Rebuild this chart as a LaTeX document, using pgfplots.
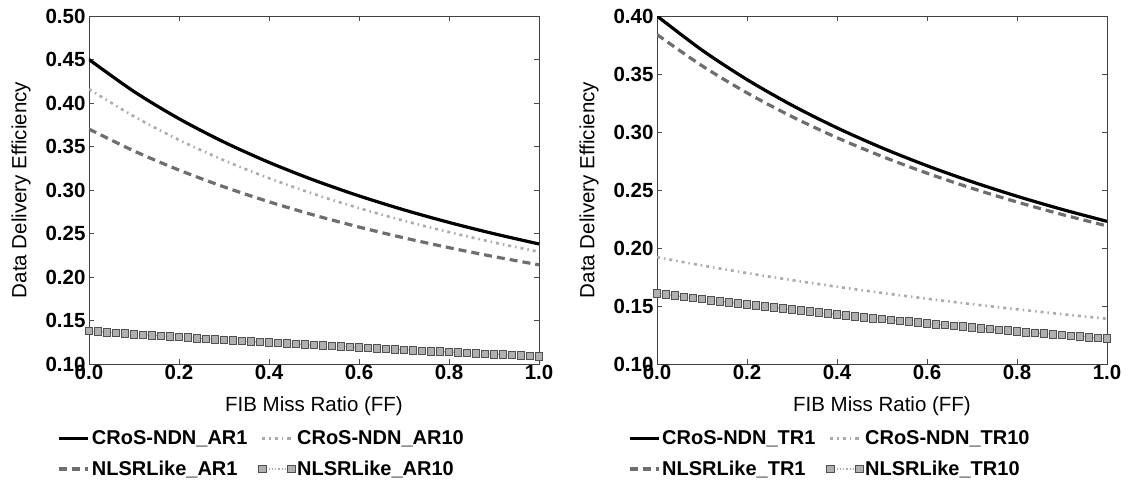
\documentclass[border=0pt]{standalone}
\usepackage{fontspec}
\setmainfont{Liberation Sans}
\usepackage{pgfplots}
\pgfplotsset{compat=1.18}
\definecolor{dk}{HTML}{6E6E6E}
\definecolor{lt}{HTML}{ABABAB}
\definecolor{sqf}{HTML}{B0B0B0}
\definecolor{sqe}{HTML}{505050}
\pgfplotsset{
  myax/.style={
    width=450pt, height=348pt, scale only axis,
    xmin=0, xmax=1,
    xtick={0,0.2,0.4,0.6,0.8,1.0},
    xticklabel style={yshift=2pt, /pgf/number format/.cd, fixed, fixed zerofill, precision=1},
    yticklabel style={/pgf/number format/.cd, fixed, fixed zerofill, precision=2},
    /pgf/number format/assume math mode=true,
    tick label style={font=\fontsize{20.5}{24}\selectfont\bfseries},
    label style={font=\fontsize{20.5}{24}\selectfont},
    tick align=inside, major tick length=5pt,
    tick style={color=black!70, line width=0.6pt},
    axis line style={color=black!75, line width=0.8pt},
    xlabel={FIB Miss Ratio (FF)},
    ylabel={Data Delivery Efficiency},
    xlabel style={at={(axis description cs:0.5,-0.121)}, anchor=center},
    ylabel style={at={(axis description cs:-0.151,0.5)}, anchor=center},
    legend columns=2,
    legend cell align=left,
    legend image code/.code={\draw[##1] plot coordinates {(0pt,0pt) (29pt,0pt)};},
    legend style={draw=none, fill=none, at={(axis description cs:0.384,-0.185)}, anchor=north,
      font=\fontsize{20}{24}\selectfont\bfseries, row sep=11pt,
      /tikz/every even column/.append style={column sep=9pt},
      inner sep=0pt},
  },
  s1/.style={black, line width=3.2pt, no marks},
  s2/.style={lt, line width=2.6pt, no marks, dash pattern=on 3pt off 4pt on 1.5pt off 4pt},
  s3/.style={dk, line width=3.2pt, no marks, dash pattern=on 8pt off 5pt},
  s4/.style={lt, line width=1.2pt, dotted, mark=square*, mark size=3.8pt,
    mark options={solid, fill=sqf, draw=sqe, line width=0.7pt}},
}
\begin{document}
\begin{tikzpicture}
\useasboundingbox (-89pt,-126pt) rectangle (1039pt,364pt);
\begin{axis}[myax, ymin=0.10, ymax=0.50, ytick={0.10,0.15,0.20,0.25,0.30,0.35,0.40,0.45,0.50}]
\addplot[s1, smooth] coordinates {(0,0.4500)(0.1,0.41318)(0.2,0.38194)(0.3,0.35509)(0.4,0.33176)(0.5,0.31131)(0.6,0.29324)(0.7,0.27715)(0.8,0.26273)(0.9,0.24974)(1.0,0.23797)};
\addlegendentry{CRoS-NDN\_AR1}
\addplot[s2, smooth] coordinates {(0,0.4160)(0.1,0.38458)(0.2,0.35757)(0.3,0.33411)(0.4,0.31354)(0.5,0.29535)(0.6,0.27916)(0.7,0.26465)(0.8,0.25157)(0.9,0.23973)(1.0,0.22895)};
\addlegendentry{CRoS-NDN\_AR10}
\addplot[s3, smooth] coordinates {(0,0.3700)(0.1,0.34486)(0.2,0.32292)(0.3,0.30360)(0.4,0.28647)(0.5,0.27116)(0.6,0.25741)(0.7,0.24498)(0.8,0.23371)(0.9,0.22342)(1.0,0.21400)};
\addlegendentry{NLSRLike\_AR1}
\addplot[s4] coordinates {(0,0.1380)(0.02,0.13727)(0.04,0.13655)(0.06,0.13583)(0.08,0.13512)(0.10,0.13442)(0.12,0.13373)(0.14,0.13305)(0.16,0.13237)(0.18,0.13169)(0.20,0.13103)(0.22,0.13037)(0.24,0.12972)(0.26,0.12907)(0.28,0.12843)(0.30,0.12780)(0.32,0.12718)(0.34,0.12655)(0.36,0.12594)(0.38,0.12533)(0.40,0.12473)(0.42,0.12413)(0.44,0.12354)(0.46,0.12296)(0.48,0.12237)(0.50,0.12180)(0.52,0.12123)(0.54,0.12067)(0.56,0.12011)(0.58,0.11955)(0.60,0.11901)(0.62,0.11846)(0.64,0.11792)(0.66,0.11739)(0.68,0.11686)(0.70,0.11634)(0.72,0.11582)(0.74,0.11530)(0.76,0.11479)(0.78,0.11429)(0.80,0.11379)(0.82,0.11329)(0.84,0.11280)(0.86,0.11231)(0.88,0.11182)(0.90,0.11134)(0.92,0.11087)(0.94,0.11040)(0.96,0.10993)(0.98,0.10946)(1.00,0.10900)};
\addlegendentry{NLSRLike\_AR10}
\end{axis}
\begin{axis}[myax, at={(568pt,0pt)}, ymin=0.10, ymax=0.40, ytick={0.10,0.15,0.20,0.25,0.30,0.35,0.40}]
\addplot[s1, smooth] coordinates {(0,0.4000)(0.1,0.37058)(0.2,0.34518)(0.3,0.32305)(0.4,0.30358)(0.5,0.28633)(0.6,0.27093)(0.7,0.25710)(0.8,0.24462)(0.9,0.23329)(1.0,0.22297)};
\addlegendentry{CRoS-NDN\_TR1}
\addplot[s2, smooth] coordinates {(0,0.1920)(0.1,0.18495)(0.2,0.17840)(0.3,0.17230)(0.4,0.16661)(0.5,0.16128)(0.6,0.15628)(0.7,0.15158)(0.8,0.14715)(0.9,0.14297)(1.0,0.13903)};
\addlegendentry{CRoS-NDN\_TR10}
\addplot[s3, smooth] coordinates {(0,0.3840)(0.1,0.35711)(0.2,0.33374)(0.3,0.31324)(0.4,0.29511)(0.5,0.27897)(0.6,0.26450)(0.7,0.25146)(0.8,0.23964)(0.9,0.22889)(1.0,0.21905)};
\addlegendentry{NLSRLike\_TR1}
\addplot[s4] coordinates {(0,0.1610)(0.02,0.15998)(0.04,0.15897)(0.06,0.15797)(0.08,0.15698)(0.10,0.15601)(0.12,0.15505)(0.14,0.15410)(0.16,0.15316)(0.18,0.15223)(0.20,0.15132)(0.22,0.15041)(0.24,0.14952)(0.26,0.14863)(0.28,0.14776)(0.30,0.14690)(0.32,0.14605)(0.34,0.14520)(0.36,0.14437)(0.38,0.14355)(0.40,0.14273)(0.42,0.14193)(0.44,0.14113)(0.46,0.14034)(0.48,0.13956)(0.50,0.13879)(0.52,0.13803)(0.54,0.13728)(0.56,0.13653)(0.58,0.13580)(0.60,0.13507)(0.62,0.13435)(0.64,0.13363)(0.66,0.13293)(0.68,0.13223)(0.70,0.13154)(0.72,0.13085)(0.74,0.13017)(0.76,0.12950)(0.78,0.12884)(0.80,0.12818)(0.82,0.12754)(0.84,0.12689)(0.86,0.12625)(0.88,0.12562)(0.90,0.12500)(0.92,0.12438)(0.94,0.12377)(0.96,0.12316)(0.98,0.12256)(1.00,0.12197)};
\addlegendentry{NLSRLike\_TR10}
\end{axis}
\end{tikzpicture}
\end{document}
